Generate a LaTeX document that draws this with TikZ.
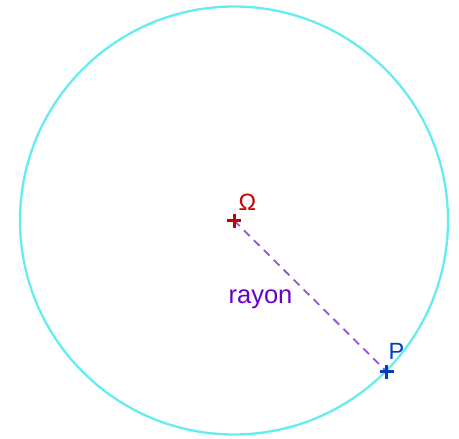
\documentclass[tikz,border=0pt]{standalone}
\usepackage{fontspec}
\setmainfont{Liberation Sans}
\usetikzlibrary{calc}
\definecolor{circcol}{RGB}{100,236,240}
\definecolor{omcol}{RGB}{200,0,0}
\definecolor{pcol}{RGB}{0,60,200}
\definecolor{raycol}{RGB}{100,0,200}
\definecolor{dashcol}{RGB}{150,80,220}
\tikzset{
  ptcross/.style={line width=3pt},
  lbl/.style={font=\fontsize{23.5}{28}\selectfont, inner sep=0pt, anchor=base},
  raylbl/.style={font=\fontsize{25.5}{30}\selectfont, inner sep=0pt, anchor=base}
}
\begin{document}
\begin{tikzpicture}[x=1pt,y=-1pt]
\useasboundingbox (0,0) rectangle (459,439);
\coordinate (O) at (234,220.5);
\coordinate (P) at (386.5,371.5);
\draw[circcol, line width=2.3pt] (O) circle[radius=214];
\draw[dashcol, line width=1.8pt, dash pattern=on 8pt off 6pt] (O) -- (P);
\draw[omcol, ptcross] ($(O)+(-7,0)$) -- ($(O)+(7,0)$) ($(O)+(0,-7)$) -- ($(O)+(0,7)$);
\draw[pcol, ptcross] ($(P)+(-7,0)$) -- ($(P)+(7,0)$) ($(P)+(0,-7)$) -- ($(P)+(0,7)$);
\node[lbl, text=omcol] (om) at (247.5,210) {Ω};
\node[lbl, text=pcol] (pl) at (396.5,359.5) {P};
\node[raylbl, text=raycol] (ray) at (260.5,303) {rayon};
\end{tikzpicture}
\end{document}
